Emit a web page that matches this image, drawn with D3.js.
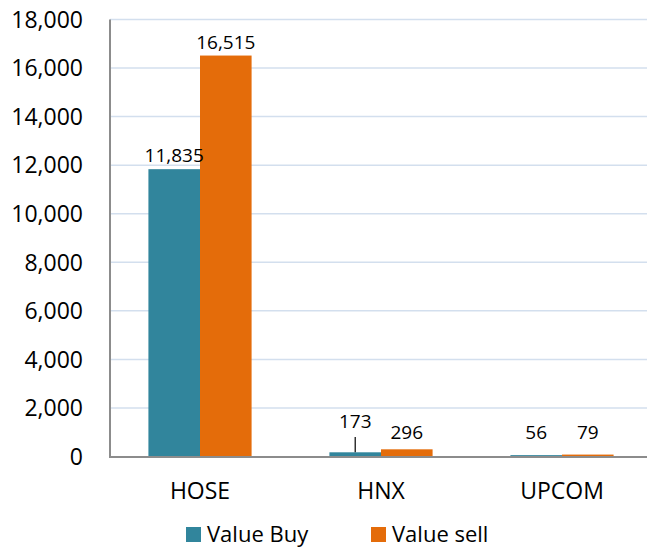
<!DOCTYPE html>
<html lang="en">
<head>
<meta charset="UTF-8">
<title>Value Buy / Value sell</title>
<script src="https://d3js.org/d3.v7.min.js"></script>
<style>
  body { margin: 0; background: #fff; }
  text { font-family: "Open Sans", sans-serif; fill: #000; }
  .grid line { stroke: #d3dfee; stroke-width: 1.5; }
</style>
</head>
<body>
<svg id="chart" width="647" height="549"></svg>
<script>
const categories = ['HOSE', 'HNX', 'UPCOM'];
const valueBuy = [11835, 173, 56];
const valueSell = [16515, 296, 79];
const seriesNames = ['Value Buy', 'Value sell'];
const seriesColors = ['#31859c', '#e46c0a'];
const yTicks = [0, 2000, 4000, 6000, 8000, 10000, 12000, 14000, 16000, 18000];

const svg = d3.select('#chart');
const width = +svg.attr('width');

const y = d3.scaleLinear().domain([0, 18000]).range([456.5, 19.5]);
const x = d3.scaleBand().domain(categories).range([109.5, 652.5]).padding(0);
const barW = x.bandwidth() * 0.285;

// gridlines
svg.append('g').attr('class', 'grid')
  .selectAll('line').data(yTicks.slice(1)).join('line')
  .attr('x1', 110).attr('x2', width)
  .attr('y1', d => y(d)).attr('y2', d => y(d));

// y tick labels
svg.append('g').selectAll('text').data(yTicks).join('text')
  .attr('x', 83).attr('y', d => y(d))
  .attr('dy', '0.36em')
  .attr('text-anchor', 'end')
  .attr('font-size', 23)
  .text(d => d3.format(',')(d));

// bars
const rows = [];
categories.forEach((c, i) => {
  rows.push({ cat: c, s: 0, v: valueBuy[i] });
  rows.push({ cat: c, s: 1, v: valueSell[i] });
});
const bx = d => x(d.cat) + x.bandwidth() / 2 + (d.s === 0 ? -barW : 0);

svg.append('g').selectAll('rect').data(rows).join('rect')
  .attr('x', bx)
  .attr('y', d => y(d.v))
  .attr('width', barW)
  .attr('height', d => Math.max(y(0) - y(d.v), 1.5))
  .attr('fill', d => seriesColors[d.s]);

// axes lines
svg.append('line').attr('x1', 110).attr('x2', 110).attr('y1', 19.5).attr('y2', 457)
  .attr('stroke', '#8c8c8c').attr('stroke-width', 2);
svg.append('line').attr('x1', 109).attr('x2', width).attr('y1', 457).attr('y2', 457)
  .attr('stroke', '#8c8c8c').attr('stroke-width', 2);

// data labels
const labels = svg.append('g');
rows.forEach(d => {
  const cx = bx(d) + barW / 2;
  const lifted = d.cat === 'HNX' && d.s === 0;
  let ly = Math.min(y(d.v) - 7, 439);
  if (lifted) {
    ly = 427.5;
    labels.append('line')
      .attr('x1', cx).attr('x2', cx)
      .attr('y1', 437).attr('y2', y(d.v))
      .attr('stroke', '#000').attr('stroke-width', 1.2);
  }
  labels.append('text')
    .attr('x', cx).attr('y', ly)
    .attr('text-anchor', 'middle')
    .attr('font-size', 19)
    .text(d3.format(',')(d.v));
});

// category labels
svg.append('g').selectAll('text').data(categories).join('text')
  .attr('x', d => x(d) + x.bandwidth() / 2)
  .attr('y', 499)
  .attr('text-anchor', 'middle')
  .attr('font-size', 23)
  .text(d => d);

// legend
const legendX = [186, 371];
const legend = svg.append('g');
seriesNames.forEach((name, i) => {
  legend.append('rect')
    .attr('x', legendX[i]).attr('y', 527)
    .attr('width', 15).attr('height', 15)
    .attr('fill', seriesColors[i]);
  legend.append('text')
    .attr('x', legendX[i] + 21).attr('y', 542)
    .attr('font-size', 22)
    .text(name);
});
</script>
</body>
</html>
